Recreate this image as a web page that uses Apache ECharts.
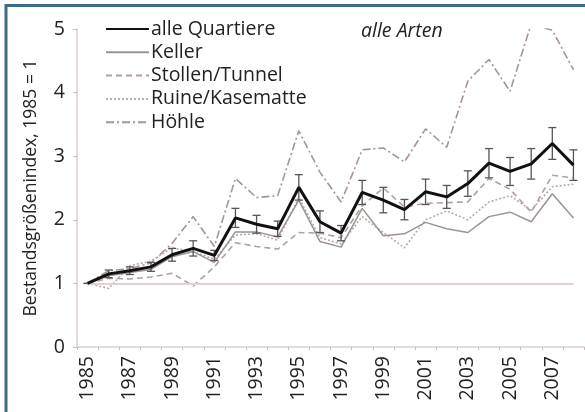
<!DOCTYPE html>
<html>
<head>
<meta charset="utf-8">
<script src="https://cdn.jsdelivr.net/npm/echarts@6/dist/echarts.min.js"></script>
<style>
  html, body { margin: 0; padding: 0; background: #fff; }
  #chart { width: 585px; height: 412px; }
</style>
</head>
<body>
<div id="chart"></div>
<script>
// Jahre 1985 - 2008
const years = ['1985','1986','1987','1988','1989','1990','1991','1992','1993','1994','1995','1996',
  '1997','1998','1999','2000','2001','2002','2003','2004','2005','2006','2007','2008']
const yTicks = [0, 1, 2, 3, 4, 5]

const alleQuartiere = [1.00,1.15,1.20,1.26,1.45,1.55,1.44,2.03,1.93,1.86,2.51,1.97,1.79,2.43,2.31,2.16,2.44,2.36,2.57,2.89,2.76,2.88,3.20,2.86]
const alleErr = [0,0.06,0.06,0.07,0.10,0.12,0.08,0.15,0.14,0.12,0.20,0.17,0.12,0.19,0.20,0.16,0.20,0.18,0.20,0.23,0.22,0.24,0.25,0.24]
const keller = [1.00,1.12,1.17,1.22,1.42,1.50,1.33,1.81,1.81,1.73,2.31,1.66,1.57,2.18,1.75,1.78,1.96,1.86,1.80,2.05,2.12,1.97,2.41,2.03]
const stollen = [1.00,1.08,1.07,1.10,1.16,0.96,1.26,1.64,1.58,1.54,1.80,1.79,1.72,2.22,2.50,2.20,2.26,2.27,2.28,2.65,2.48,2.12,2.70,2.66]
const ruine = [1.00,0.92,1.28,1.35,1.56,1.50,1.38,1.76,1.78,1.68,2.35,1.72,1.62,2.05,1.80,1.56,2.00,2.14,2.00,2.28,2.38,2.15,2.52,2.56]
const hoehle = [1.00,1.20,1.23,1.32,1.63,2.05,1.58,2.65,2.35,2.38,3.40,2.75,2.28,3.10,3.13,2.91,3.43,3.14,4.18,4.52,4.02,5.08,4.98,4.36]

const font = 'Open Sans'
const errData = alleQuartiere.map((v, i) => [i, v - alleErr[i], v + alleErr[i]])

let myChart = echarts.init(document.getElementById('chart'))
let option = {
  backgroundColor: '#fff',
  animation: false,
  textStyle: { fontFamily: font },
  title: {
    text: 'alle Arten',
    left: 356,
    top: 16,
    textStyle: { fontFamily: font, fontSize: 19.5, fontStyle: 'italic', fontWeight: 'normal', color: '#222' }
  },
  legend: {
    orient: 'vertical',
    left: 105,
    top: 19,
    padding: 0,
    itemGap: 3.3,
    itemWidth: 43,
    itemHeight: 20,
    itemStyle: { opacity: 0 }, // nur Linie, kein Symbol
    data: ['alle Quartiere', 'Keller', 'Stollen/Tunnel', 'Ruine/Kasematte', 'Höhle'],
    textStyle: { fontFamily: font, fontSize: 19.5, color: '#222', lineHeight: 20, padding: [0, 0, 0, -3] }
  },
  grid: {
    left: 77,
    right: 1,
    top: 29,
    bottom: 65
  },
  xAxis: {
    type: 'category',
    data: years,
    boundaryGap: true,
    axisLine: { lineStyle: { color: '#dccfcf', width: 1.5 } },
    axisTick: { show: true, interval: 0, length: 3, lineStyle: { color: '#c8bcbc' } },
    axisLabel: { show: true, interval: 1, rotate: 90, fontSize: 19.5, color: '#222', margin: 9, fontFamily: font }
  },
  yAxis: {
    type: 'value',
    min: yTicks[0],
    max: yTicks[yTicks.length - 1],
    interval: 1,
    name: 'Bestandsgrößenindex, 1985 = 1',
    nameLocation: 'middle',
    nameRotate: 90,
    nameGap: 37,
    nameTextStyle: { fontSize: 17.5, color: '#222', fontFamily: font },
    axisLine: { show: true, lineStyle: { color: '#dccfcf', width: 1.5 } },
    axisTick: { show: true, length: 4, lineStyle: { color: '#c8bcbc' } },
    axisLabel: { fontSize: 19.5, color: '#222', margin: 12, fontFamily: font },
    splitLine: { show: false }
  },
  graphic: [
    {
      // Rahmen oben/links
      type: 'rect',
      shape: { x: 6, y: 5.5, width: 700, height: 700 },
      style: { fill: 'none', stroke: '#3f6b8b', lineWidth: 3 },
      z: 100
    }
  ],
  series: [
    {
      name: 'Höhle',
      type: 'line',
      data: hoehle,
      symbol: 'none',
      lineStyle: { color: '#a89494', width: 1.6, type: [8, 3, 2, 3] },
      itemStyle: { color: '#a89494' },
      z: 2
    },
    {
      name: 'Ruine/Kasematte',
      type: 'line',
      data: ruine,
      symbol: 'none',
      lineStyle: { color: '#bba9a9', width: 1.6, type: [2, 2] },
      itemStyle: { color: '#bba9a9' },
      z: 2
    },
    {
      name: 'Stollen/Tunnel',
      type: 'line',
      data: stollen,
      symbol: 'none',
      lineStyle: { color: '#b39e9e', width: 1.6, type: [6, 4] },
      itemStyle: { color: '#b39e9e' },
      z: 2
    },
    {
      name: 'Keller',
      type: 'line',
      data: keller,
      symbol: 'none',
      lineStyle: { color: '#9c9393', width: 1.5 },
      itemStyle: { color: '#9c9393' },
      z: 3,
      markLine: {
        silent: true,
        symbol: 'none',
        label: { show: false },
        lineStyle: { color: '#e0d2d2', width: 2, type: 'solid' },
        data: [[{ coord: [years[0], 1] }, { coord: [years[years.length - 1], 1] }]]
      }
    },
    {
      name: 'alle Quartiere',
      type: 'line',
      data: alleQuartiere,
      symbol: 'none',
      lineStyle: { color: '#111', width: 3 },
      itemStyle: { color: '#111' },
      z: 5
    },
    {
      // Fehlerbalken für alle Quartiere
      name: 'Fehler',
      type: 'custom',
      data: errData,
      z: 4,
      renderItem: function (params, api) {
        let x = api.value(0)
        let lo = api.coord([x, api.value(1)])
        let hi = api.coord([x, api.value(2)])
        let w = 4
        let st = { stroke: '#5a5555', lineWidth: 1.3 }
        return {
          type: 'group',
          children: [
            { type: 'line', shape: { x1: lo[0], y1: lo[1], x2: hi[0], y2: hi[1] }, style: st },
            { type: 'line', shape: { x1: lo[0] - w, y1: lo[1], x2: lo[0] + w, y2: lo[1] }, style: st },
            { type: 'line', shape: { x1: hi[0] - w, y1: hi[1], x2: hi[0] + w, y2: hi[1] }, style: st }
          ]
        }
      }
    }
  ]
}
myChart.setOption(option)
</script>
</body>
</html>
